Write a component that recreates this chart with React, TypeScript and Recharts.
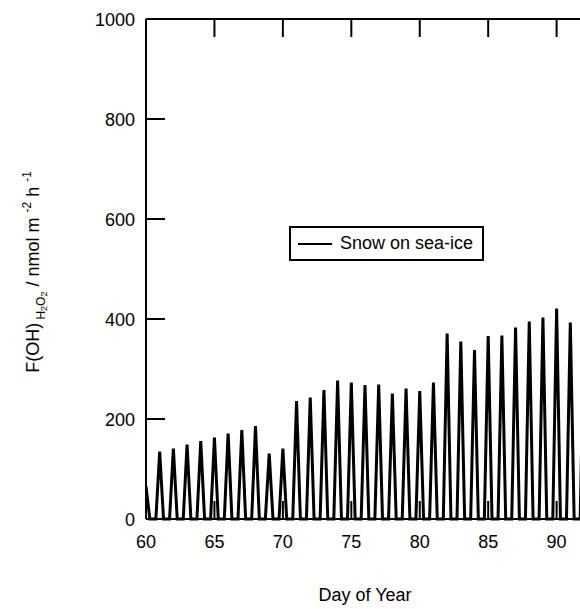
import React from "react";
import {
  LineChart,
  Line,
  XAxis,
  YAxis,
  Label,
} from "recharts";

// daily maxima of the diurnal cycle, one per day of year
const days = [
  60, 61, 62, 63, 64, 65, 66, 67, 68, 69, 70, 71, 72, 73, 74, 75, 76,
  77, 78, 79, 80, 81, 82, 83, 84, 85, 86, 87, 88, 89, 90, 91, 92,
];
const peakFlux = [
  65, 135, 141, 149, 156, 163, 171, 178, 186, 131, 141, 236, 243, 258,
  277, 273, 268, 269, 251, 261, 256, 273, 371, 355, 338, 366, 367, 383,
  395, 403, 421, 393, 380,
];
const nightFlux = 0;

const xTicks = [60, 65, 70, 75, 80, 85, 90];
const yTicks = [0, 200, 400, 600, 800, 1000];

const FONT = "'Liberation Sans', Arial, sans-serif";
const SPIKE_HALF = 0.28;

const series = days.flatMap((d, i) => [
  { day: d - SPIKE_HALF, flux: nightFlux },
  { day: d, flux: peakFlux[i] },
  { day: d + SPIKE_HALF, flux: nightFlux },
]);

const BottomTick = ({ x, y, payload }: any) => (
  <g>
    <line x1={x} y1={y} x2={x} y2={y - 18} stroke="#000" strokeWidth={2} />
    <text x={x} y={y + 29} textAnchor="middle" fontSize={18} fontFamily={FONT} fill="#000">
      {payload.value}
    </text>
  </g>
);

const TopTick = ({ x, y }: any) => (
  <line x1={x} y1={y} x2={x} y2={y + 18} stroke="#000" strokeWidth={2} />
);

const LeftTick = ({ x, y, payload }: any) => (
  <g>
    <line x1={x} y1={y} x2={x + 19} y2={y} stroke="#000" strokeWidth={2} />
    <text x={x - 11} y={y + 6.5} textAnchor="end" fontSize={18} fontFamily={FONT} fill="#000">
      {payload.value}
    </text>
  </g>
);

const RightTick = ({ x, y }: any) => (
  <line x1={x} y1={y} x2={x - 19} y2={y} stroke="#000" strokeWidth={2} />
);

const XLabel = ({ viewBox }: any) => (
  <text
    x={viewBox.x + viewBox.width / 2}
    y={viewBox.y + 82}
    textAnchor="middle"
    fontSize={18}
    fontFamily={FONT}
    fill="#000"
  >
    Day of Year
  </text>
);

const YLabel = ({ viewBox }: any) => {
  const x = viewBox.x + 39;
  const y = viewBox.y + viewBox.height / 2 + 3;
  return (
    <text
      x={x}
      y={y}
      transform={`rotate(-90 ${x} ${y})`}
      textAnchor="middle"
      fontSize={18}
      fontFamily={FONT}
      fill="#000"
    >
      <tspan>F(OH)</tspan>
      <tspan fontSize={12} dy={6}> H</tspan>
      <tspan fontSize={9} dy={2}>2</tspan>
      <tspan fontSize={12} dy={-2}>O</tspan>
      <tspan fontSize={9} dy={2}>2</tspan>
      <tspan dy={-8}> /  nmol m </tspan>
      <tspan fontSize={12} dy={-8}>-2</tspan>
      <tspan dy={8}> h </tspan>
      <tspan fontSize={12} dy={-8}>-1</tspan>
    </text>
  );
};

const LegendBox = () => (
  <div
    style={{
      position: "absolute",
      left: 289,
      top: 226,
      border: "2px solid #000",
      width: 191,
      height: 31,
      background: "#fff",
      display: "flex",
      alignItems: "center",
      fontFamily: FONT,
      fontSize: 18,
      color: "#000",
    }}
  >
    <div style={{ width: 34, height: 2, background: "#000", marginLeft: 7, marginRight: 8 }} />
    <span>Snow on sea-ice</span>
  </div>
);

export default function App() {
  return (
    <div
      style={{
        position: "absolute",
        left: 0,
        top: 0,
        width: 580,
        height: 609,
        overflow: "hidden",
        background: "#fff",
      }}
    >
      <LineChart width={600} height={609} data={series} margin={{ top: 0, right: 0, bottom: 0, left: 0 }}>
        <XAxis
          xAxisId="bottom"
          dataKey="day"
          type="number"
          domain={[60, 92]}
          ticks={xTicks}
          allowDataOverflow
          height={90}
          tickSize={0}
          tickMargin={0}
          tick={<BottomTick />}
          tickLine={false}
          axisLine={{ stroke: "#000", strokeWidth: 2 }}
          interval={0}
          label={<Label content={<XLabel />} />}
        />
        <XAxis
          xAxisId="top"
          orientation="top"
          dataKey="day"
          type="number"
          domain={[60, 92]}
          ticks={xTicks}
          allowDataOverflow
          height={19}
          tickSize={0}
          tickMargin={0}
          tick={<TopTick />}
          tickLine={false}
          axisLine={{ stroke: "#000", strokeWidth: 2 }}
          interval={0}
        />
        <YAxis
          yAxisId="left"
          type="number"
          domain={[0, 1000]}
          ticks={yTicks}
          width={146}
          tickSize={0}
          tickMargin={0}
          tick={<LeftTick />}
          tickLine={false}
          axisLine={{ stroke: "#000", strokeWidth: 2 }}
          interval={0}
          label={<Label content={<YLabel />} />}
        />
        <YAxis
          yAxisId="right"
          orientation="right"
          type="number"
          domain={[0, 1000]}
          ticks={yTicks}
          width={16}
          tickSize={0}
          tickMargin={0}
          tick={<RightTick />}
          tickLine={false}
          axisLine={{ stroke: "#000", strokeWidth: 2 }}
          interval={0}
        />
        <Line
          xAxisId="bottom"
          yAxisId="left"
          type="linear"
          dataKey="flux"
          name="Snow on sea-ice"
          stroke="#000"
          strokeWidth={3}
          dot={false}
          activeDot={false}
          isAnimationActive={false}
        />
      </LineChart>
      <LegendBox />
    </div>
  );
}
